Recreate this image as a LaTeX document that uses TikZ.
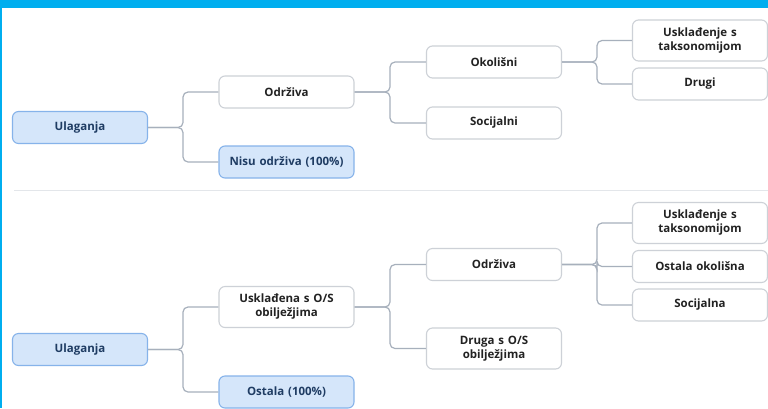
\documentclass[tikz,border=0pt]{standalone}
\usepackage{fontspec}
\setmainfont{Open Sans}
\definecolor{barblue}{HTML}{00AEEF}
\definecolor{nfill}{HTML}{D5E6FA}
\definecolor{nborder}{HTML}{86B3EA}
\definecolor{ntext}{HTML}{1F3C63}
\definecolor{wborder}{HTML}{CDD1D7}
\definecolor{wtext}{HTML}{222222}
\definecolor{conn}{HTML}{A7B0BC}
\definecolor{sepline}{HTML}{E3E6EA}
\tikzset{
  basebox/.style={rounded corners=6pt, line width=1.1pt, minimum width=135pt, minimum height=32pt,
    inner sep=2pt, align=center, font=\bfseries\fontsize{11.5}{14}\selectfont, text width=128pt},
  bluebox/.style={basebox, fill=nfill, draw=nborder, text=ntext},
  whitebox/.style={basebox, fill=white, draw=wborder, text=wtext},
  tallbox/.style={minimum height=41pt},
  link/.style={draw=conn, line width=1.2pt, rounded corners=5pt}
}
\begin{document}
\begin{tikzpicture}[x=1pt,y=-1pt]
\useasboundingbox (0,0) rectangle (768,408);
\fill[white] (0,0) rectangle (768,408);
\fill[barblue] (0,0) rectangle (768,8);
\fill[barblue] (0,0) rectangle (2.2,408);
\draw[sepline, line width=1pt] (14,190) -- (768,190);

% top tree
\node[bluebox] (u1) at (80,127.5) {Ulaganja};
\node[whitebox] (o1) at (286.5,92) {Održiva};
\node[bluebox] (n1) at (286.5,162) {Nisu održiva (100\%)};
\node[whitebox] (ok1) at (494,62) {Okolišni};
\node[whitebox] (s1) at (494,123) {Socijalni};
\node[whitebox, tallbox] (t1) at (700,40.5) {Usklađenje s\\taksonomijom};
\node[whitebox] (d1) at (700,84) {Drugi};

\draw[link] (u1.east) -- (183,127.5) |- (o1.west);
\draw[link] (u1.east) -- (183,127.5) |- (n1.west);
\draw[link] (o1.east) -- (390,92) |- (ok1.west);
\draw[link] (o1.east) -- (390,92) |- (s1.west);
\draw[link] (ok1.east) -- (597,62) |- (t1.west);
\draw[link] (ok1.east) -- (597,62) |- (d1.west);

% bottom tree
\node[bluebox] (u2) at (80,349.5) {Ulaganja};
\node[whitebox, tallbox] (a2) at (286.5,307) {Usklađena s O/S\\obilježjima};
\node[bluebox] (n2) at (286.5,392) {Ostala (100\%)};
\node[whitebox] (o2) at (494,264.5) {Održiva};
\node[whitebox, tallbox] (d2) at (494,348.5) {Druga s O/S\\obilježjima};
\node[whitebox, tallbox] (t2) at (700,223) {Usklađenje s\\taksonomijom};
\node[whitebox] (k2) at (700,266.5) {Ostala okolišna};
\node[whitebox] (s2) at (700,305) {Socijalna};

\draw[link] (u2.east) -- (183,349.5) |- (a2.west);
\draw[link] (u2.east) -- (183,349.5) |- (n2.west);
\draw[link] (a2.east) -- (390,307) |- (o2.west);
\draw[link] (a2.east) -- (390,307) |- (d2.west);
\draw[link] (o2.east) -- (597,264.5) |- (t2.west);
\draw[link] (o2.east) -- (597,264.5) |- (k2.west);
\draw[link] (o2.east) -- (597,264.5) |- (s2.west);
\end{tikzpicture}
\end{document}
